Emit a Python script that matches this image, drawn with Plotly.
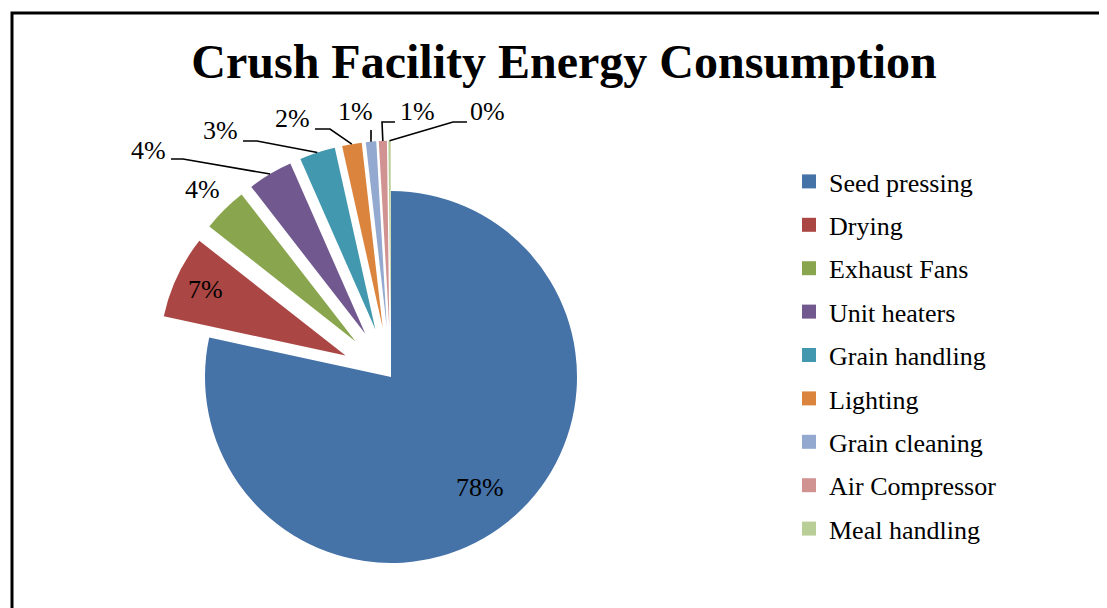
import math
import plotly.graph_objects as go

# Share of total energy use (%)
categories = ["Seed pressing", "Drying", "Exhaust Fans", "Unit heaters", "Grain handling",
              "Lighting", "Grain cleaning", "Air Compressor", "Meal handling"]
shares = [78.4, 7.2, 3.9, 3.9, 3.1, 1.7, 0.9, 0.7, 0.2]
pulls = [0, 0.27, 0.27, 0.27, 0.27, 0.27, 0.27, 0.27, 0.27]

colors = ["#4572A7", "#AA4643", "#89A54E", "#71588F", "#4198AF",
          "#DB843D", "#93A9CF", "#D19392", "#B9CD96"]

W, H = 1107, 608
OFF = 8  # page body margin around the plot div
SERIF = "Liberation Serif, Times New Roman, serif"

# pie centre and radius in page pixels
CX, CY, RAD = 391, 377, 186
HALF = RAD * (1 + max(pulls))


def px(x, y):
    """page pixels -> paper fraction"""
    return (x - OFF) / W, 1 - (y - OFF) / H


fig = go.Figure(go.Pie(
    labels=categories,
    values=shares,
    sort=False,
    direction="clockwise",
    rotation=0,
    pull=pulls,
    marker=dict(colors=colors, line=dict(width=0)),
    textinfo="none",
    domain=dict(x=[px(CX - HALF, 0)[0], px(CX + HALF, 0)[0]],
                y=[px(0, CY + HALF)[1], px(0, CY - HALF)[1]]),
    showlegend=False,
))

# legend entries (separate groups so the rows get the wider spacing of the source)
for name, col in zip(categories, colors):
    fig.add_trace(go.Scatter(
        x=[None], y=[None], mode="markers", name=name, legendgroup=name,
        marker=dict(symbol="square", size=14, color=col),
    ))

total = sum(shares)
cum = 0
mids = []
for s in shares:
    mids.append(2 * math.pi * (cum + s / 2) / total)
    cum += s


def slice_point(i, k):
    """point on slice i's bisector, k radii out from its (pulled) apex"""
    d = RAD * (pulls[i] + k)
    return CX + d * math.sin(mids[i]), CY - d * math.cos(mids[i])


def pct_label(i, xy):
    lx, ly = px(*xy)
    fig.add_annotation(x=lx, y=ly, xref="paper", yref="paper",
                       text=f"{round(100 * shares[i] / total)}%", showarrow=False,
                       xanchor="center", yanchor="middle",
                       font=dict(family=SERIF, size=26, color="black"))


# labels inside the two big slices (fraction of radius out along the bisector)
inside_k = {0: 0.76, 1: 0.83}
for i, k in inside_k.items():
    pct_label(i, slice_point(i, k))

# outside labels with leader lines, Excel style
# (text centre, leader start, optional elbow) in page pixels; line ends on the slice rim
outside_labels = {
    2: ((203, 189), None, None),
    3: ((148, 150), (171, 159), (183, 159)),
    4: ((220, 131), (243, 141), (257, 141)),
    5: ((292, 119), (315, 129), (330, 129)),
    6: ((355, 112), (371, 130), None),
    7: ((417, 112), (395, 122), (382, 122)),
    8: ((487, 112), (467, 122), (453, 122)),
}

for i, (txt_xy, start, elbow) in outside_labels.items():
    pct_label(i, txt_xy)
    if start is None:
        continue
    pts = [start] + ([elbow] if elbow else []) + [slice_point(i, 1.0)]
    path = "M " + " L ".join("{:.5f},{:.5f}".format(*px(*p)) for p in pts)
    fig.add_shape(type="path", xref="paper", yref="paper", path=path,
                  line=dict(color="black", width=1.6))

# chart frame (runs off the right and bottom edges like the source)
fx0, fy1 = px(12, 13)
fig.add_shape(type="rect", xref="paper", yref="paper",
              x0=fx0, x1=1.05, y0=-0.05, y1=fy1,
              line=dict(color="black", width=3), fillcolor="rgba(0,0,0,0)")

fig.update_layout(
    width=W, height=H,
    paper_bgcolor="white", plot_bgcolor="white",
    margin=dict(l=0, r=0, t=0, b=0, autoexpand=False),
    xaxis=dict(visible=False), yaxis=dict(visible=False),
    title=dict(text="<b>Crush Facility Energy Consumption</b>",
               x=px(564, 0)[0], xanchor="center", y=px(0, 61)[1], yanchor="middle",
               font=dict(family=SERIF, size=48, color="black")),
    legend=dict(x=px(789, 0)[0], xanchor="left", y=px(0, 158)[1], yanchor="top",
                tracegroupgap=6.6,
                font=dict(family=SERIF, size=26, color="black"),
                bgcolor="rgba(0,0,0,0)"),
    showlegend=True,
)

fig.write_html("out.html")
